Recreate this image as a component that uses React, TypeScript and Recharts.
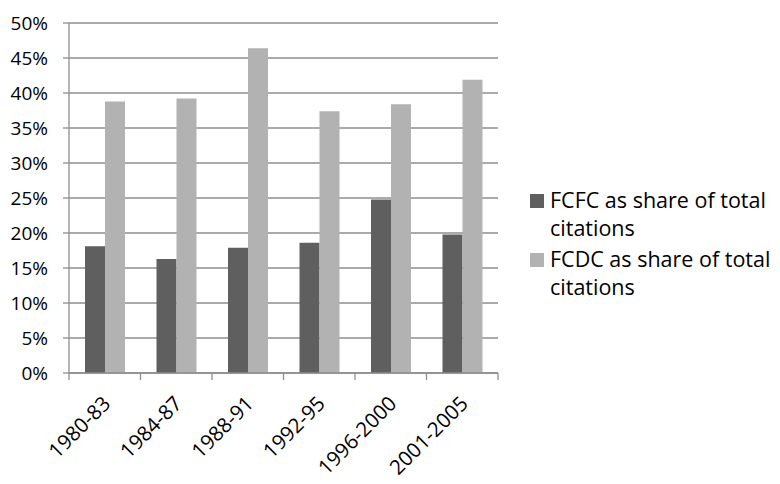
import { BarChart, Bar, XAxis, YAxis, CartesianGrid, Legend } from "recharts"

// Share of total citations by period (%)
const periods = ["1980-83", "1984-87", "1988-91", "1992-95", "1996-2000", "2001-2005"]
const fcfcShare = [18.1, 16.3, 17.9, 18.6, 24.8, 19.8]
const fcdcShare = [38.8, 39.2, 46.4, 37.4, 38.4, 41.9]
const shareTicks = [0, 5, 10, 15, 20, 25, 30, 35, 40, 45, 50]
const seriesNames = ["FCFC as share of total citations", "FCDC as share of total citations"]
const seriesColors = ["#5f5f5f", "#b2b2b2"]

const data = periods.map((period, i) => ({
  period,
  fcfc: fcfcShare[i],
  fcdc: fcdcShare[i],
}))

const FONT = "'Open Sans', 'DejaVu Sans', sans-serif"
const LINE = "#8e8e8e"

// category label rotated 45°, with tick marks on the category boundaries
function PeriodTick(props: any) {
  const { x, y, payload, index, visibleTicksCount, width } = props
  const half = payload?.offset ?? width / visibleTicksCount / 2
  const last = index === visibleTicksCount - 1
  const lx = x + 7
  const ly = y + 32
  return (
    <g>
      <line x1={x - half} y1={y} x2={x - half} y2={y + 7} stroke={LINE} strokeWidth={1.3} />
      {last && <line x1={x + half} y1={y} x2={x + half} y2={y + 7} stroke={LINE} strokeWidth={1.3} />}
      <text
        x={lx}
        y={ly}
        transform={`rotate(-45, ${lx}, ${ly})`}
        textAnchor="end"
        fontSize={20.5}
        fontFamily={FONT}
        fill="#000"
      >
        {payload.value}
      </text>
    </g>
  )
}

function ShareLegend() {
  return (
    <div style={{ fontFamily: FONT, fontSize: 21.5, lineHeight: "28px", color: "#000" }}>
      {seriesNames.map((name, i) => (
        <div key={name} style={{ display: "flex", alignItems: "flex-start", marginBottom: 3 }}>
          <span
            style={{
              display: "inline-block",
              width: 14,
              height: 14,
              background: seriesColors[i],
              marginTop: 8,
              marginRight: 6,
              flexShrink: 0,
            }}
          />
          <span style={{ width: 228 }}>{name}</span>
        </div>
      ))}
    </div>
  )
}

export default function App() {
  return (
    <div style={{ position: "absolute", left: 0, top: 0, background: "#fff" }}>
      <BarChart
        width={780}
        height={484}
        data={data}
        margin={{ top: 23, right: 282, bottom: 81, left: 0 }}
        barCategoryGap={16}
        barGap={0}
      >
        <CartesianGrid vertical={false} stroke={LINE} strokeWidth={1.3} />
        <XAxis
          dataKey="period"
          interval={0}
          height={30}
          tickLine={false}
          tickSize={0}
          tickMargin={0}
          axisLine={{ stroke: LINE, strokeWidth: 1.3 }}
          tick={<PeriodTick />}
        />
        <YAxis
          width={69}
          domain={[0, 50]}
          ticks={shareTicks}
          tickFormatter={(v) => `${v}%`}
          tickSize={6}
          tickMargin={15}
          tickLine={{ stroke: LINE, strokeWidth: 1.3 }}
          axisLine={{ stroke: LINE, strokeWidth: 1.3 }}
          tick={{ fill: "#000", fontSize: 19, fontFamily: FONT }}
        />
        <Legend
          layout="horizontal"
          verticalAlign="middle"
          align="center"
          content={<ShareLegend />}
          wrapperStyle={{ position: "absolute", left: 530, top: 186, width: 250 }}
        />
        <Bar dataKey="fcfc" name={seriesNames[0]} fill={seriesColors[0]} isAnimationActive={false} />
        <Bar dataKey="fcdc" name={seriesNames[1]} fill={seriesColors[1]} isAnimationActive={false} />
      </BarChart>
    </div>
  )
}
